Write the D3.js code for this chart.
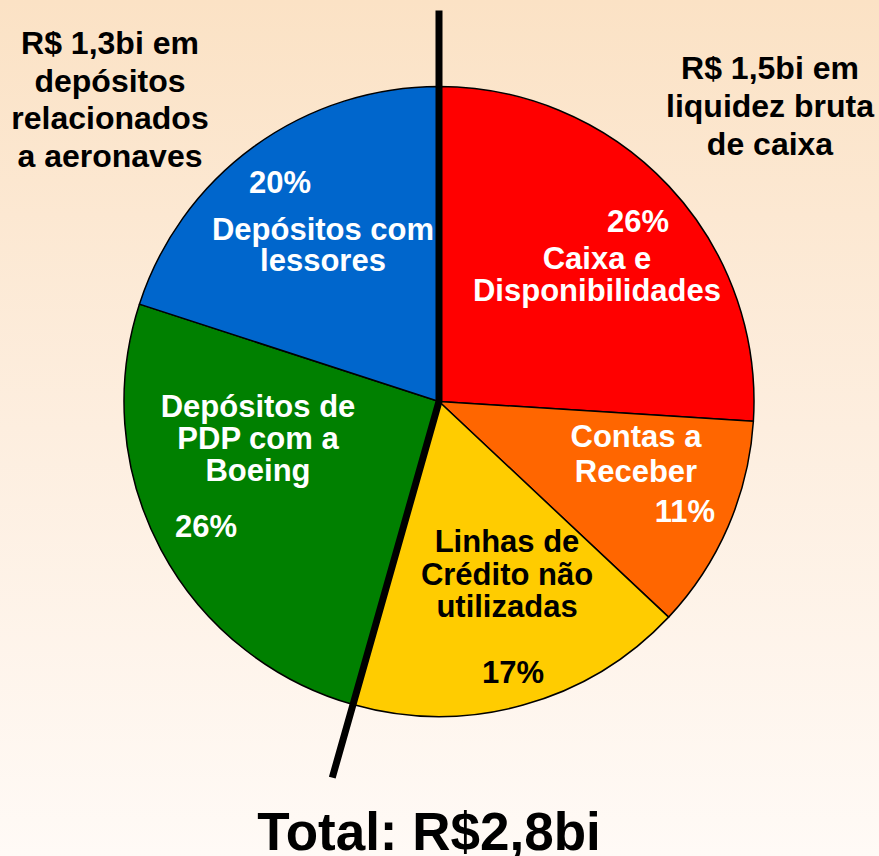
<!DOCTYPE html>
<html>
<head>
<meta charset="utf-8">
<script src="https://cdn.jsdelivr.net/npm/d3@7"></script>
<style>
  html, body { margin: 0; padding: 0; }
  body { width: 879px; height: 856px; overflow: hidden; }
  svg { display: block; }
  text { font-family: "Liberation Sans", Arial, sans-serif; font-weight: bold; }
</style>
</head>
<body>
<svg id="chart" width="879" height="856"></svg>
<script>
// ---- data ----
const categories = ["Caixa e Disponibilidades", "Contas a Receber", "Linhas de Crédito não utilizadas", "Depósitos de PDP com a Boeing", "Depósitos com lessores"];
const nameLines = [["Caixa e", "Disponibilidades"], ["Contas a", "Receber"], ["Linhas de", "Crédito não", "utilizadas"], ["Depósitos de", "PDP com a", "Boeing"], ["Depósitos com", "lessores"]];
const shares = [26, 11, 17.4, 25.6, 20];
const sliceColors = ["#FF0000", "#FF6600", "#FFCC00", "#008000", "#0066CC"];
const textColors = ["#FFFFFF", "#FFFFFF", "#000000", "#FFFFFF", "#FFFFFF"];
const leftNote = ["R$ 1,3bi em", "depósitos", "relacionados", "a aeronaves"];
const rightNote = ["R$ 1,5bi em", "liquidez bruta", "de caixa"];
const totalLabel = "Total: R$2,8bi";
const liquidityCount = 3; // first three slices form the gross liquidity group

// ---- layout (offsets relative to pie centre) ----
const W = 879, H = 856;
const cx = 439, cy = 401.5, R = 315;
const labelLayout = [
  { nx: 158, ny: -133, gap: 32, px: 199, py: -169.5 },
  { nx: 197, ny: 45.5, gap: 35, px: 246, py: 120.5 },
  { nx: 68, ny: 150.5, gap: 32.5, px: 74, py: 281.5 },
  { nx: -181, ny: 15.5, gap: 32, px: -233, py: 135.5 },
  { nx: -116, ny: -161.5, gap: 31, px: -159, py: -208.5 }
];

(function () {
const svg = d3.select("#chart");
const defs = svg.append("defs");
const grad = defs.append("linearGradient").attr("id", "bg").attr("x1", 0).attr("y1", 0).attr("x2", 0).attr("y2", 1);
grad.append("stop").attr("offset", "0%").attr("stop-color", "#FBE2C5");
grad.append("stop").attr("offset", "50%").attr("stop-color", "#FDEEDF");
grad.append("stop").attr("offset", "100%").attr("stop-color", "#FFFAF6");
svg.append("rect").attr("width", W).attr("height", H).attr("fill", "url(#bg)");

const data = categories.map((c, i) => ({ name: c, value: shares[i], i }));
const pie = d3.pie().value(d => d.value).sort(null);
const arcs = pie(data);
const arc = d3.arc().innerRadius(0).outerRadius(R);

const g = svg.append("g").attr("transform", `translate(${cx},${cy})`);
g.selectAll("path.slice").data(arcs).join("path")
  .attr("class", "slice")
  .attr("d", arc)
  .attr("fill", d => sliceColors[d.data.i])
  .attr("stroke", "#000")
  .attr("stroke-width", 1.5)
  .attr("stroke-linejoin", "round");

// dividing line between the two groups
const lineLen = 391;
const splitAngle = arcs[liquidityCount - 1].endAngle;
const pt = (a, r) => [Math.sin(a) * r, -Math.cos(a) * r];
const pTop = pt(0, lineLen), pBot = pt(splitAngle, lineLen);
g.append("path")
  .attr("d", `M${pTop[0]},${pTop[1]} L0,0 L${pBot[0]},${pBot[1]}`)
  .attr("fill", "none").attr("stroke", "#000").attr("stroke-width", 7).attr("stroke-linejoin", "miter");

// slice labels
arcs.forEach((a, k) => {
  const L = labelLayout[k];
  const col = textColors[k];
  const t = g.append("text").attr("text-anchor", "middle").attr("font-size", 31).attr("fill", col);
  nameLines[k].forEach((ln, j) => {
    t.append("tspan").attr("x", L.nx).attr("y", L.ny + j * L.gap).text(ln);
  });
  g.append("text").attr("text-anchor", "middle").attr("font-size", 31).attr("fill", col)
    .attr("x", L.px).attr("y", L.py)
    .text(Math.round(a.data.value) + "%");
});

// group notes
const ln = svg.append("text").attr("text-anchor", "middle").attr("font-size", 32).attr("fill", "#000");
leftNote.forEach((s, j) => ln.append("tspan").attr("x", 110).attr("y", 54 + j * 37.5).text(s));
const rn = svg.append("text").attr("text-anchor", "middle").attr("font-size", 32).attr("fill", "#000");
rightNote.forEach((s, j) => rn.append("tspan").attr("x", 770).attr("y", 79 + j * 38).text(s));

svg.append("text").attr("text-anchor", "middle").attr("font-size", 53).attr("fill", "#000")
  .attr("x", 429).attr("y", 850).text(totalLabel);
})();
</script>
</body>
</html>
